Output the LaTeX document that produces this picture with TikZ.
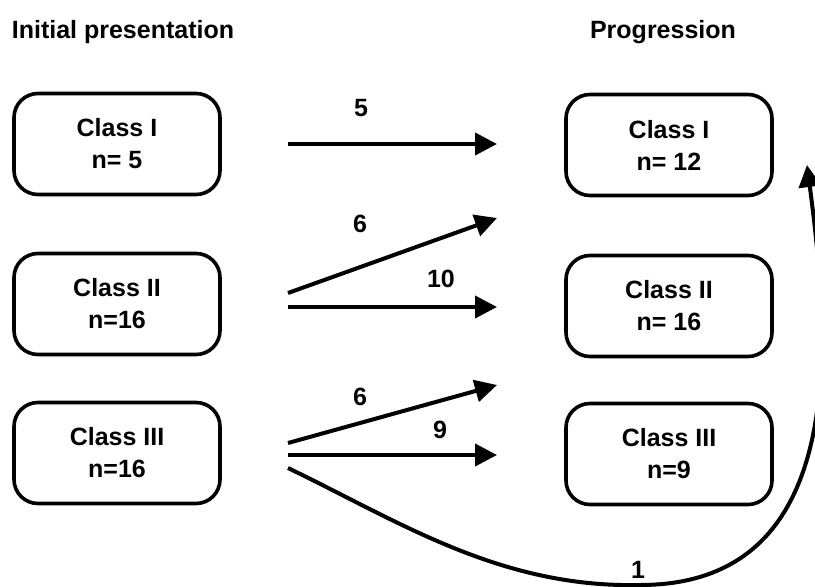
\documentclass[tikz,border=0pt]{standalone}
\usepackage{fontspec}
\setmainfont{Liberation Sans}
\usetikzlibrary{arrows.meta}

\tikzset{
  classbox/.style={draw, line width=3.6pt, rounded corners=24pt, minimum width=206pt,
    minimum height=101pt, inner sep=0pt, align=center,
    font=\fontsize{25}{32}\selectfont\bfseries},
  flow/.style={line width=4pt, -{Triangle[length=22pt,width=22pt]}},
  count/.style={font=\fontsize{25}{30}\selectfont\bfseries},
  head/.style={anchor=base, font=\fontsize{25}{30}\selectfont\bfseries}
}

\begin{document}
\begin{tikzpicture}[x=1pt,y=-1pt]
\useasboundingbox (0,0) rectangle (815,587);
% headers
\node[head] (hinit) at (123,38) {Initial presentation};
\node[head] (hprog) at (663,38) {Progression};
% initial classes
\node[classbox] (init1) at (117,144) {Class I\\n= 5};
\node[classbox] (init2) at (117,304) {Class II\\n=16};
\node[classbox] (init3) at (117,453) {Class III\\n=16};
% progression classes
\node[classbox] (prog1) at (669,145) {Class I\\n= 12};
\node[classbox] (prog2) at (669,306) {Class II\\n= 16};
\node[classbox] (prog3) at (669,454) {Class III\\n=9};
% arrow ends
\coordinate (from1) at (288,144);
\coordinate (to1) at (497,144);
\coordinate (from2a) at (288,293);
\coordinate (to2a) at (497,218);
\coordinate (from2b) at (288,307);
\coordinate (to2b) at (497,307);
\coordinate (from3a) at (288,443);
\coordinate (to3a) at (497,385);
\coordinate (from3b) at (288,455);
\coordinate (to3b) at (497,455);
\coordinate (from3c) at (288,468);
\coordinate (to3c) at (807,165);
% flows
\draw[flow] (from1) -- (to1);
\node[count] (n1) at (361,108) {5};
\draw[flow] (from2a) -- (to2a);
\node[count] (n2a) at (360,224) {6};
\draw[flow] (from2b) -- (to2b);
\node[count] (n2b) at (441,279) {10};
\draw[flow] (from3a) -- (to3a);
\node[count] (n3a) at (360,397) {6};
\draw[flow] (from3b) -- (to3b);
\node[count] (n3b) at (440,430) {9};
\draw[flow] (from3c) .. controls (400,522) and (500,588) .. (640,585)
  .. controls (850,585) and (830,340) .. (to3c);
\node[count] (n3c) at (638,570) {1};
\end{tikzpicture}
\end{document}
